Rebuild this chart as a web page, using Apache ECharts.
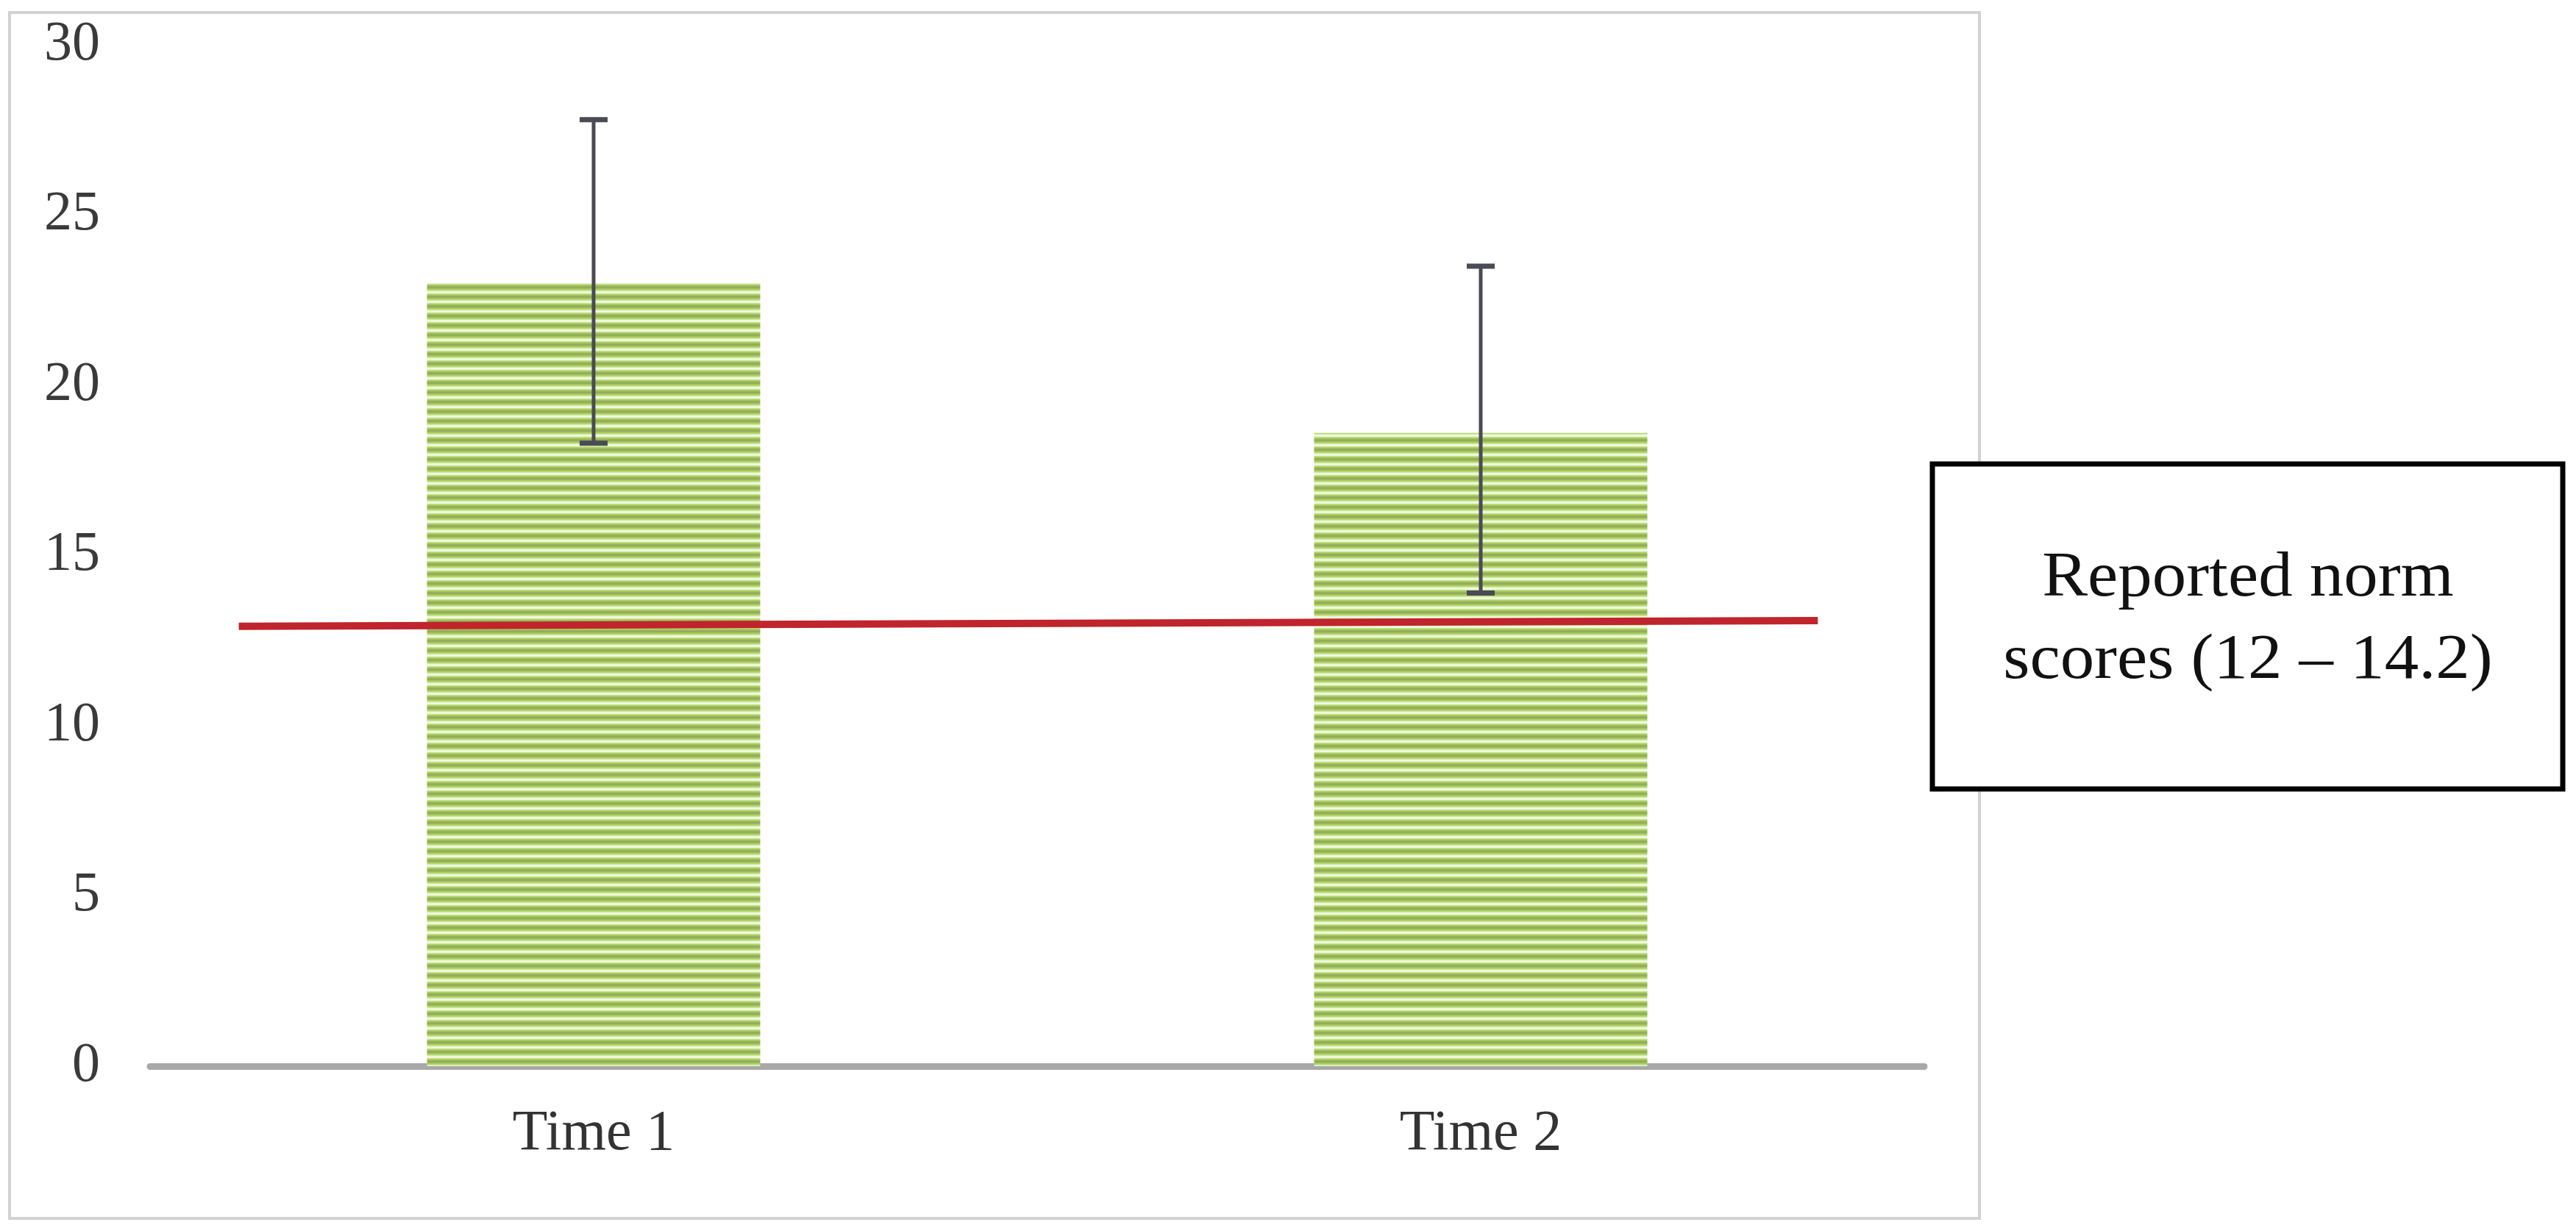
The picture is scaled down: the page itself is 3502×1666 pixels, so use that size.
<!DOCTYPE html>
<html>
<head>
<meta charset="utf-8">
<script src="https://cdn.jsdelivr.net/npm/echarts@6/dist/echarts.min.js"></script>
<style>
  html, body { margin: 0; padding: 0; background: #ffffff; }
  #chart { width: 3502px; height: 1666px; }
</style>
</head>
<body>
<div id="chart"></div>
<script>
// ---- data ----
const categories = ['Time 1', 'Time 2'];
const meanScores = [23.0, 18.6];
const errLow = [18.3, 13.9];
const errHigh = [27.8, 23.5];
const normLineX = [-0.40, 1.38];
const normLineY = [12.92, 13.09];
const yMin = 0, yMax = 30, yStep = 5;
const legendLines = ['Reported norm', 'scores (12 \u2013 14.2)'];

// ---- striped fill pattern ----
const stripeColors = ['#93aa5e', '#96ae5c', '#9fc058', '#aad05e', '#b8da72', '#d0e8a4',
  '#e9f5d0', '#f6fbec', '#e9f5d0', '#cae392', '#b0d464', '#a3c65a', '#98b45c'];
const pat = document.createElement('canvas');
pat.width = 8; pat.height = stripeColors.length;
const pctx = pat.getContext('2d');
stripeColors.forEach((c, i) => { pctx.fillStyle = c; pctx.fillRect(0, i, 8, 1); });

const FONT = 'Liberation Serif';
const chart = echarts.init(document.getElementById('chart'), null, { renderer: 'canvas' });

const option = {
  backgroundColor: '#ffffff',
  animation: false,
  grid: { left: 204, right: 886, top: 61, bottom: 216, containLabel: false },
  xAxis: [
    {
      type: 'category',
      data: categories,
      axisLine: { show: true, lineStyle: { color: '#a8a8a8', width: 9 } },
      axisTick: { show: false },
      axisLabel: { fontFamily: FONT, fontSize: 78, color: '#333333', margin: 54 },
      splitLine: { show: false }
    },
    {
      type: 'value', min: -0.5, max: 1.5, show: false
    }
  ],
  yAxis: {
    type: 'value',
    min: yMin, max: yMax, interval: yStep,
    axisLine: { show: false },
    axisTick: { show: false },
    splitLine: { show: false },
    axisLabel: { fontFamily: FONT, fontSize: 76, color: '#3a3a3a', margin: 68 }
  },
  series: [
    {
      type: 'bar',
      data: meanScores,
      barWidth: 453,
      itemStyle: { color: { image: pat, repeat: 'repeat' } },
      z: 2
    },
    {
      type: 'custom',
      data: categories.map((c, i) => [i, errLow[i], errHigh[i]]),
      encode: { x: 0, y: [1, 2] },
      z: 4,
      renderItem: function (params, api) {
        const i = api.value(0);
        const lo = api.coord([i, api.value(1)]);
        const hi = api.coord([i, api.value(2)]);
        const cap = 19;
        return {
          type: 'group',
          children: [
            { type: 'line', shape: { x1: lo[0], y1: lo[1], x2: hi[0], y2: hi[1] }, style: { stroke: '#4a4b54', lineWidth: 5 } },
            { type: 'line', shape: { x1: hi[0] - cap, y1: hi[1], x2: hi[0] + cap, y2: hi[1] }, style: { stroke: '#4a4b54', lineWidth: 7 } },
            { type: 'line', shape: { x1: lo[0] - cap, y1: lo[1], x2: lo[0] + cap, y2: lo[1] }, style: { stroke: '#4a4b54', lineWidth: 7 } }
          ]
        };
      }
    },
    {
      type: 'line',
      xAxisIndex: 1,
      data: normLineX.map((x, i) => [x, normLineY[i]]),
      symbol: 'none',
      lineStyle: { color: '#c0242c', width: 10 },
      z: 5
    }
  ],
  graphic: [
    {
      type: 'rect',
      shape: { x: 13, y: 17, width: 2678, height: 1640 },
      style: { fill: 'none', stroke: '#d2d2d2', lineWidth: 4 },
      silent: true, z: -10
    },
    {
      type: 'rect',
      shape: { x: 2627, y: 631, width: 857, height: 442 },
      style: { fill: '#ffffff', stroke: '#000000', lineWidth: 7 },
      z: 10
    },
    {
      type: 'text',
      x: 3056, y: 843, scaleX: 1.08,
      style: {
        x: 0, y: 0,
        text: legendLines.join('\n'),
        font: '86px "' + FONT + '"',
        fontFamily: FONT, fontSize: 86,
        lineHeight: 112,
        fill: '#111111',
        textAlign: 'center',
        textVerticalAlign: 'middle'
      },
      z: 11
    }
  ]
};
chart.setOption(option);
</script>
</body>
</html>
